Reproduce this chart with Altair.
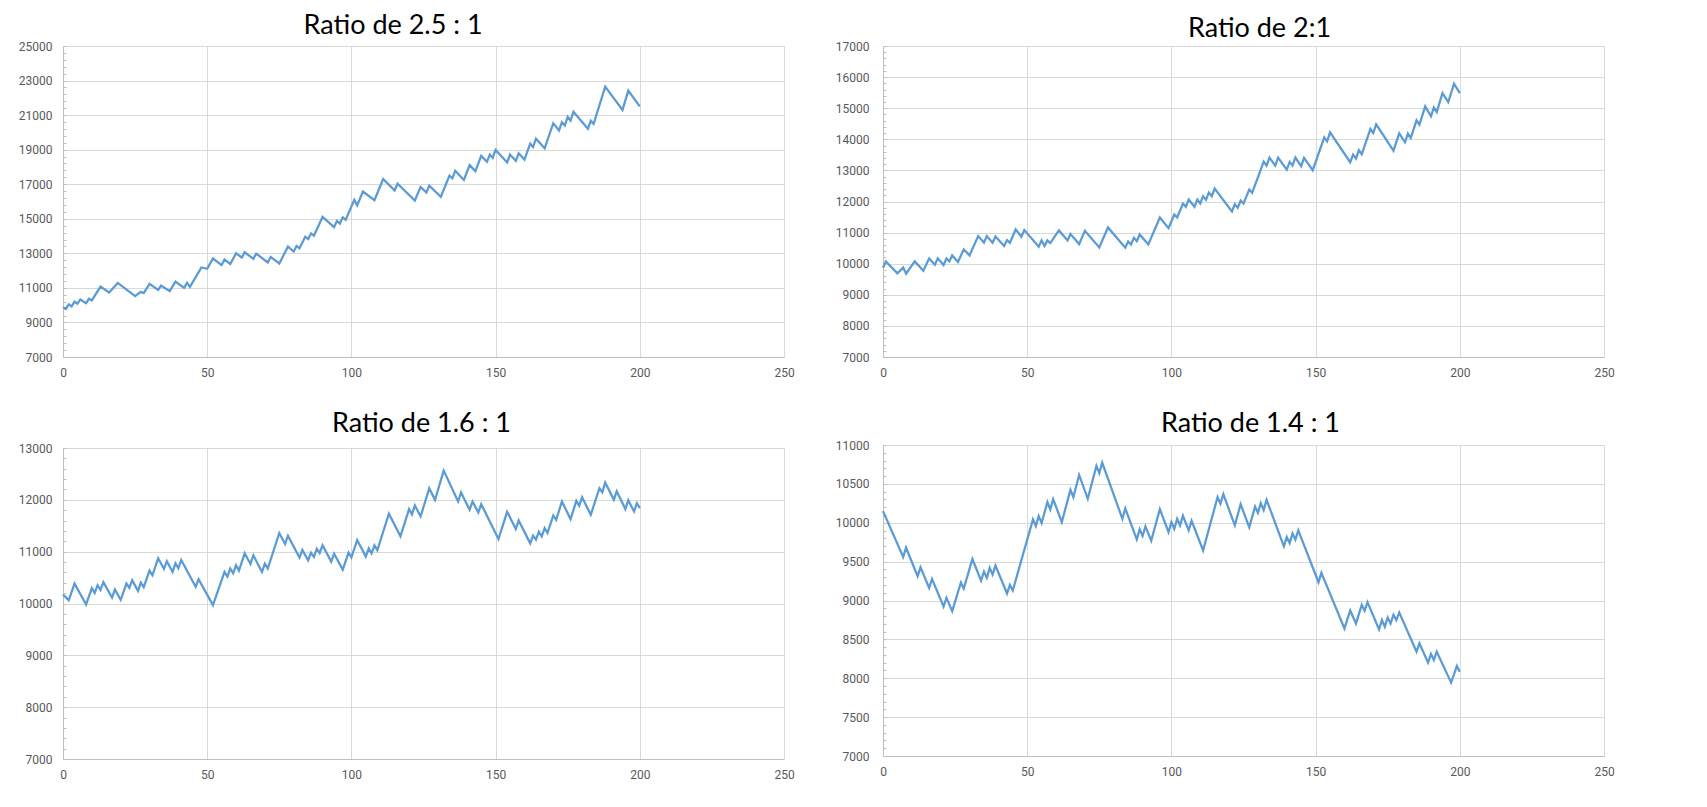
import altair as alt
import pandas as pd

# ---------- data (vertices) ----------
titles = ["Ratio de 2.5 : 1", "Ratio de 2:1", "Ratio de 1.6 : 1", "Ratio de 1.4 : 1"]

x_25 = [0, 1, 2, 3, 4, 5, 6, 8, 9, 10, 13, 16, 19, 25, 27, 28, 30, 33, 34, 37, 39, 42, 43, 44,
        48, 50, 52, 55, 56, 58, 60, 62, 63, 66, 67, 71, 72, 75, 78, 80, 81, 82, 84, 85, 86, 87,
        90, 94, 95, 96, 97, 98, 101, 102, 104, 108, 111, 115, 116, 122, 124, 126, 127, 131, 134,
        135, 136, 139, 141, 143, 145, 147, 148, 149, 150, 154, 155, 157, 158, 160, 162, 163, 164,
        167, 170, 172, 173, 174, 175, 176, 177, 182, 183, 184, 188, 194, 196, 200]
v_25 = [9890, 9780, 10045, 9930, 10200, 10083, 10330, 10120, 10370, 10275, 11076, 10733, 11287,
        10522, 10770, 10694, 11229, 10885, 11134, 10809, 11363, 11000, 11287, 11057,
        12184, 12108, 12700, 12318, 12643, 12375, 13005, 12757, 13063, 12681, 12986, 12471, 12795,
        12413, 13387, 13101, 13425, 13292, 13960, 13827, 14151, 14018,
        15107, 14514, 14877, 14725, 15087, 14935, 16100, 15775, 16577, 16080, 17303, 16635, 17036,
        16061, 16845, 16520, 16921, 16272, 17494, 17341, 17781, 17246, 18105, 17761, 18640, 18296,
        18716, 18525, 18984, 18258, 18716, 18354, 18793, 18430, 19347, 19156, 19633,
        19079, 20530, 20110, 20588, 20397, 20894, 20683, 21199, 20206, 20664, 20493, 22650, 21295,
        22420, 21505]

x_20 = [0, 1, 5, 7, 8, 11, 14, 16, 18, 19, 21, 22, 23, 24, 26, 28, 30, 33, 35, 36, 38, 39, 42, 43,
        44, 46, 48, 49, 54, 55, 56, 57, 58, 61, 64, 65, 68, 70, 75, 78, 84, 85, 86, 87, 88, 89, 92,
        96, 99, 101, 102, 104, 105, 106, 108, 109, 110, 111, 112, 113, 114, 115, 121, 122, 123, 124,
        125, 127, 128, 132, 133, 134, 136, 137, 140, 141, 142, 143, 145, 146, 149, 153, 154, 155,
        162, 163, 164, 165, 166, 169, 170, 171, 177, 179, 181, 182, 183, 185, 186, 188, 190, 191,
        192, 194, 196, 198, 200]
v_20 = [9870, 10075, 9690, 9882, 9679, 10075, 9775, 10171, 9968, 10171, 9957, 10171, 10075, 10267,
        10053, 10460, 10267, 10888, 10674, 10888, 10674, 10877, 10567, 10759,
        10674, 11102, 10866, 11080, 10545, 10749, 10567, 10749, 10663, 11070, 10749, 10952, 10631,
        11059, 10524, 11166, 10513, 10717, 10620, 10834, 10727, 10941, 10620,
        11487, 11144, 11583, 11487, 11936, 11829, 12064, 11829, 12064, 11936, 12171, 12053, 12289,
        12171, 12417, 11679, 11914, 11797, 12032,
        11936, 12385, 12278, 13283, 13155, 13412, 13155, 13412, 13027, 13273, 13155, 13412, 13134,
        13401, 13005, 14064, 13936, 14224,
        13262, 13508, 13380, 13647, 13519, 14332, 14203, 14481, 13636, 14192, 13904, 14182, 14043,
        14610, 14471, 15059, 14738, 15027,
        14877, 15487, 15198, 15786, 15487]

x_16 = [0, 2, 4, 8, 10, 11, 12, 13, 14, 17, 18, 20, 22, 23, 24, 26, 27, 28, 30, 31, 33, 35, 36, 38,
        39, 40, 41, 46, 47, 52, 56, 57, 58, 59, 60, 61, 63, 65, 66, 69, 70, 71, 75, 77, 78, 82, 83,
        85, 86, 87, 88, 89, 90, 93, 94, 97, 99, 100, 102, 105, 106, 107, 108, 109, 113, 117, 120,
        121, 122, 124, 127, 129, 132, 137, 138, 141, 142, 144, 145, 151, 154, 157, 158, 162, 163,
        164, 165, 166, 167, 168, 170, 171, 173, 176, 178, 179, 180, 183, 186, 187, 188, 191, 192,
        195, 196, 198, 199, 200]
v_16 = [10170, 10064, 10385, 9981, 10295, 10205, 10353, 10263, 10410, 10115, 10269, 10071, 10385,
        10301, 10449, 10244, 10404, 10314, 10635, 10545, 10872, 10667, 10814, 10609,
        10776, 10679, 10840, 10321, 10468, 9968, 10609, 10519, 10673, 10583, 10737, 10635, 10968,
        10763, 10929, 10609, 10769, 10673, 11359, 11147, 11308, 10885, 11032,
        10833, 10981, 10897, 11058, 10974, 11122, 10808, 10962, 10654, 10981, 10891, 11224, 10904,
        11064, 10968, 11122, 11026, 11731, 11295, 11821,
        11718, 11891, 11680, 12224, 12000, 12564, 11968, 12141, 11808, 11968, 11756, 11917, 11244,
        11769, 11436, 11603, 11160, 11308,
        11231, 11385, 11295, 11455, 11359, 11699, 11615, 11968, 11628, 11981, 11885, 12051, 11711,
        12224, 12147, 12333, 12000, 12167,
        11821, 11994, 11776, 11936, 11840]

x_14 = [0, 7, 8, 12, 13, 16, 17, 21, 22, 24, 27, 28, 31, 34, 35, 36, 37, 38, 39, 43, 44, 45, 52, 53,
        54, 55, 57, 58, 59, 62, 65, 66, 68, 71, 74, 75, 76, 83, 84, 88, 89, 90, 91, 93, 96, 99, 100,
        101, 102, 103, 104, 106, 107, 111, 116, 117, 118, 122, 124, 127, 129, 130, 131, 132, 133,
        139, 140, 141, 142, 143, 144, 151, 152, 160, 162, 164, 166, 167, 168, 172, 173, 174, 175,
        176, 177, 178, 179, 185, 186, 189, 190, 191, 192, 197, 199, 200]
v_14 = [10150, 9560, 9679, 9312, 9427, 9162, 9278, 8923, 9034, 8863, 9231, 9154, 9534, 9256, 9372,
        9291, 9419, 9333, 9449, 9090, 9201, 9128, 10043, 9957,
        10085, 9996, 10265, 10171, 10303, 10009, 10423, 10329, 10615, 10308, 10731, 10637, 10774,
        10051, 10184, 9786, 9915, 9829, 9953, 9769, 10175, 9880, 10009,
        9920, 10050, 9966, 10090, 9902, 10026, 9645, 10329, 10244, 10368, 9966, 10239, 9940, 10209,
        10128, 10252, 10162, 10295,
        9697, 9816, 9739, 9863, 9782, 9902, 9235, 9355, 8641, 8872, 8705, 8944, 8867, 8979, 8628,
        8748, 8662, 8782,
        8705, 8816, 8748, 8846, 8342, 8449, 8201, 8312, 8235, 8342, 7944, 8158, 8085]

x_ticks = [0, 50, 100, 150, 200, 250]
y_25 = [7000, 9000, 11000, 13000, 15000, 17000, 19000, 21000, 23000, 25000]
y_20 = [7000, 8000, 9000, 10000, 11000, 12000, 13000, 14000, 15000, 16000, 17000]
y_16 = [7000, 8000, 9000, 10000, 11000, 12000, 13000]
y_14 = [7000, 7500, 8000, 8500, 9000, 9500, 10000, 10500, 11000]

# ---------- style ----------
LINE = "#5B9BD5"
GRID = "#D9D9D9"
DOMAIN = "#BFBFBF"
LABEL = "#595959"
TICKFONT = "Liberation Sans Narrow, Roboto, Liberation Sans, sans-serif"
TITLEFONT = "Lato, Open Sans, sans-serif"
W, H = 721, 311


def panel(xs, vs, title, yvals, title_dx, title_offset, ypad):
    lo, hi = yvals[0], yvals[-1]
    step = (yvals[1] - yvals[0]) / 5.0
    minor = [lo + k * step for k in range(int(round((hi - lo) / step)) + 1)]
    df = pd.DataFrame({"x": xs, "v": vs})
    xenc = alt.X("x:Q", scale=alt.Scale(domain=[0, 250], nice=False, zero=False),
                 axis=alt.Axis(values=x_ticks, title=None, grid=True, gridColor=GRID,
                               domainColor=DOMAIN, ticks=False, tickSize=0,
                               labelColor=LABEL, labelFont=TICKFONT, labelFontSize=12,
                               labelPadding=10, labelFlush=False, labelOverlap=False,
                               format="d"))
    yscale = alt.Scale(domain=[lo, hi], nice=False, zero=False)
    base = alt.Chart(df).encode(x=xenc)
    line = base.mark_line(color=LINE, strokeWidth=2.25).encode(
        y=alt.Y("v:Q", scale=yscale,
                axis=alt.Axis(values=yvals, title=None, grid=True, gridColor=GRID,
                              domainColor=DOMAIN, ticks=False, tickSize=0,
                              labelColor=LABEL, labelFont=TICKFONT, labelFontSize=12,
                              labelPadding=ypad, labelOverlap=False, format="d")))
    minor_layer = base.mark_line(opacity=0).encode(
        y=alt.Y("v:Q", scale=yscale,
                axis=alt.Axis(orient="right", offset=-W, values=minor, title=None,
                              grid=False, labels=False, domain=False, ticks=True,
                              tickSize=3, tickColor=DOMAIN)))
    return alt.layer(line, minor_layer).resolve_axis(y="independent").properties(
        width=W, height=H,
        title=alt.TitleParams(text=title, font=TITLEFONT, fontSize=27, fontWeight="normal",
                              color="#000000", anchor="middle", frame="group",
                              baseline="alphabetic", dx=title_dx, offset=title_offset))


p1 = panel(x_25, v_25, titles[0], y_25, -30.4, -21.1, 11)
p2 = panel(x_20, v_20, titles[1], y_20, 16, -24.4, 14)
p3 = panel(x_16, v_16, titles[2], y_16, -2, -17.2, 11)
p4 = panel(x_14, v_14, titles[3], y_14, 7, -20.4, 14)

left = alt.vconcat(p1, p3, spacing=32)
right = alt.vconcat(p2, p4, spacing=32)

chart = alt.hconcat(left, right, spacing=40).properties(
    padding={"left": 10, "top": 4, "right": 5, "bottom": 5},
    background="white",
).configure_view(stroke=None)

chart.save("out.html", embed_options={"renderer": "svg", "actions": False})
